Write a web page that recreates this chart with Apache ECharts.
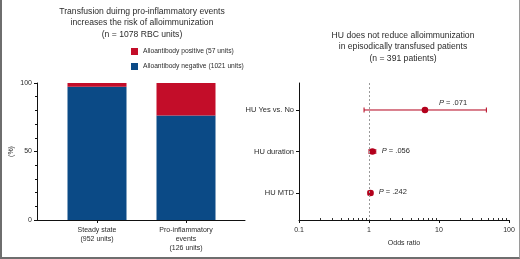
<!DOCTYPE html>
<html><head><meta charset="utf-8">
<script src="https://cdn.jsdelivr.net/npm/echarts@6/dist/echarts.min.js"></script>
<style>
html,body{margin:0;padding:0;background:#fff;}
#c{width:520px;height:259px;}
#frame{position:absolute;left:0;top:0;width:517px;height:257px;border-left:2px solid #6e6e6e;border-bottom:2px solid #6e6e6e;border-right:1px solid #9a9a9a;box-sizing:content-box;pointer-events:none;}
</style></head>
<body>
<div id="c"></div>
<div id="frame"></div>
<script>
// ---- Left panel data ----
const barCategories = ['Steady state\n(952 units)', 'Pro-inflammatory\nevents\n(126 units)'];
const negativePct = [97.2, 76.2];
const positivePct = [2.8, 23.8];
const legendNames = ['Alloantibody positive (57 units)', 'Alloantibody negative (1021 units)'];
const leftTicks = [0, 50, 100];

// ---- Right panel data ----
const forestRows = ['HU Yes vs. No', 'HU duration', 'HU MTD'];
const oddsRatio = [6.3, 1.12, 1.05];
const ciLow = [0.85, 1.0, 0.97];
const ciHigh = [47.5, 1.25, 1.13];
const pValues = ['.071', '.056', '.242'];
const oddsTicks = [0.1, 1, 10, 100];
const oddsMinorTicks = [0.2,0.3,0.4,0.5,0.6,0.7,0.8,0.9,2,3,4,5,6,7,8,9,20,30,40,50,60,70,80,90];

const FONT = 'Liberation Sans, Arial, Helvetica, sans-serif';
const TXT = '#2b2b2b';
const BLUE = '#0b4a86';
const RED = '#c30d29';
const FRED = '#b3001c';

const chart = echarts.init(document.getElementById('c'), null, {renderer: 'canvas'});

const forestData = forestRows.map((r, i) => [oddsRatio[i], i, ciLow[i], ciHigh[i], pValues[i]]);

const option = {
  animation: false,
  textStyle: {fontFamily: FONT},
  graphic: [
    {type: 'text', x: 142, y: 6, style: {
      text: 'Transfusion duirng pro-inflammatory events\nincreases the risk of alloimmunization\n(n = 1078 RBC units)',
      font: '8.6px ' + FONT, fill: TXT, align: 'center', verticalAlign: 'top', lineHeight: 11.3}},
    {type: 'text', x: 403, y: 29.5, style: {
      text: 'HU does not reduce alloimmunization\nin episodically transfused patients\n(n = 391 patients)',
      font: '8.6px ' + FONT, fill: TXT, align: 'center', verticalAlign: 'top', lineHeight: 11.7}}
  ],
  legend: {
    orient: 'vertical', left: 131, top: 48, padding: 0, itemWidth: 7, itemHeight: 7, itemGap: 8,
    icon: 'rect', data: legendNames,
    textStyle: {fontSize: 6.7, color: TXT, fontFamily: FONT}
  },
  grid: [
    {left: 37, top: 83, width: 208, height: 137},
    {left: 52.5, top: 83, width: 178, height: 137},
    {left: 299, top: 83, width: 210, height: 137}
  ],
  xAxis: [
    {gridIndex: 0, type: 'value', min: 0, max: 1, axisLine: {show: true, onZero: false, lineStyle: {color: '#111', width: 1}},
     axisTick: {show: false}, axisLabel: {show: false}, splitLine: {show: false}},
    {gridIndex: 1, type: 'category', data: barCategories, boundaryGap: true,
     axisLine: {show: false, onZero: false}, axisTick: {show: true, alignWithLabel: true, length: 3, lineStyle: {color: '#111'}},
     axisLabel: {fontSize: 7, color: TXT, lineHeight: 9, margin: 6, interval: 0, fontFamily: FONT}},
    {gridIndex: 2, type: 'log', logBase: 10, min: 0.1, max: 100,
     axisLine: {show: true, onZero: false, lineStyle: {color: '#111', width: 1}},
     axisTick: {show: true, length: 3, customValues: oddsTicks, lineStyle: {color: '#111'}},
     axisLabel: {fontSize: 7, color: TXT, margin: 7, customValues: oddsTicks, fontFamily: FONT,
       formatter: v => String(v)},
     splitLine: {show: false},
     name: 'Odds ratio', nameLocation: 'middle', nameGap: 20,
     nameTextStyle: {fontSize: 7, color: TXT, fontFamily: FONT}},
    {gridIndex: 2, type: 'log', logBase: 10, min: 0.1, max: 100, position: 'bottom',
     axisLine: {show: false, onZero: false}, axisLabel: {show: false}, splitLine: {show: false},
     axisTick: {show: true, inside: true, length: 2, customValues: oddsMinorTicks, lineStyle: {color: '#333'}}}
  ],
  yAxis: [
    {gridIndex: 0, type: 'value', min: 0, max: 100, interval: 50,
     axisLine: {show: true, onZero: false, lineStyle: {color: '#111', width: 1}},
     axisTick: {show: true, length: 3, lineStyle: {color: '#111'}},
     minorTick: {show: true, splitNumber: 5, length: 2, lineStyle: {color: '#111'}},
     axisLabel: {fontSize: 7, color: TXT, margin: 5, fontFamily: FONT},
     splitLine: {show: false},
     name: '(%)', nameLocation: 'middle', nameGap: 22, nameRotate: 90,
     nameTextStyle: {fontSize: 7, color: TXT, fontFamily: FONT}},
    {gridIndex: 1, type: 'value', min: 0, max: 100, show: false},
    {gridIndex: 2, type: 'value', min: -0.65, max: 2.65, inverse: true,
     axisLine: {show: true, onZero: false, lineStyle: {color: '#111', width: 1}},
     axisTick: {show: true, length: 3, customValues: [0, 1, 2], lineStyle: {color: '#111'}},
     axisLabel: {fontSize: 7.5, color: TXT, margin: 5, customValues: [0, 1, 2], fontFamily: FONT,
       formatter: v => forestRows[Math.round(v)] || ''},
     splitLine: {show: false}}
  ],
  series: [
    {name: legendNames[1], type: 'bar', stack: 'tot', xAxisIndex: 1, yAxisIndex: 1,
     barWidth: 59, data: negativePct, itemStyle: {color: BLUE}},
    {name: legendNames[0], type: 'bar', stack: 'tot', xAxisIndex: 1, yAxisIndex: 1,
     barWidth: 59, data: positivePct, itemStyle: {color: RED}},
    {type: 'custom', xAxisIndex: 2, yAxisIndex: 2, data: forestData, clip: false,
     renderItem: function (params, api) {
       const or = api.value(0), row = api.value(1), lo = api.value(2), hi = api.value(3);
       const p = forestData[params.dataIndex][4];
       const c = api.coord([or, row]);
       const a = api.coord([lo, row]);
       const b = api.coord([hi, row]);
       const capH = 2.5;
       const wide = (b[0] - a[0]) > 40;
       const lx = wide ? c[0] + 14 : b[0] + 6;
       const ly = wide ? c[1] - 7 : c[1] - 1;
       return {type: 'group', children: [
         {type: 'line', shape: {x1: a[0], y1: c[1], x2: b[0], y2: c[1]}, style: {stroke: FRED, lineWidth: 1}},
         {type: 'line', shape: {x1: a[0], y1: c[1] - capH, x2: a[0], y2: c[1] + capH}, style: {stroke: FRED, lineWidth: 1}},
         {type: 'line', shape: {x1: b[0], y1: c[1] - capH, x2: b[0], y2: c[1] + capH}, style: {stroke: FRED, lineWidth: 1}},
         {type: 'circle', shape: {cx: c[0], cy: c[1], r: 3.3}, style: {fill: FRED}},
         {type: 'text', x: lx, y: ly, style: {
           text: '{i|P} = ' + p, fill: TXT, font: '7.5px ' + FONT, verticalAlign: 'middle', align: 'left',
           rich: {i: {fontStyle: 'italic', fontSize: 7.5, fontFamily: FONT, fill: TXT}}}}
       ]};
     },
     markLine: {silent: true, symbol: 'none', label: {show: false},
       lineStyle: {type: [2, 2], color: '#9a9a9a', width: 1},
       data: [{xAxis: 1}]}
    }
  ]
};
chart.setOption(option);
</script>
</body></html>
